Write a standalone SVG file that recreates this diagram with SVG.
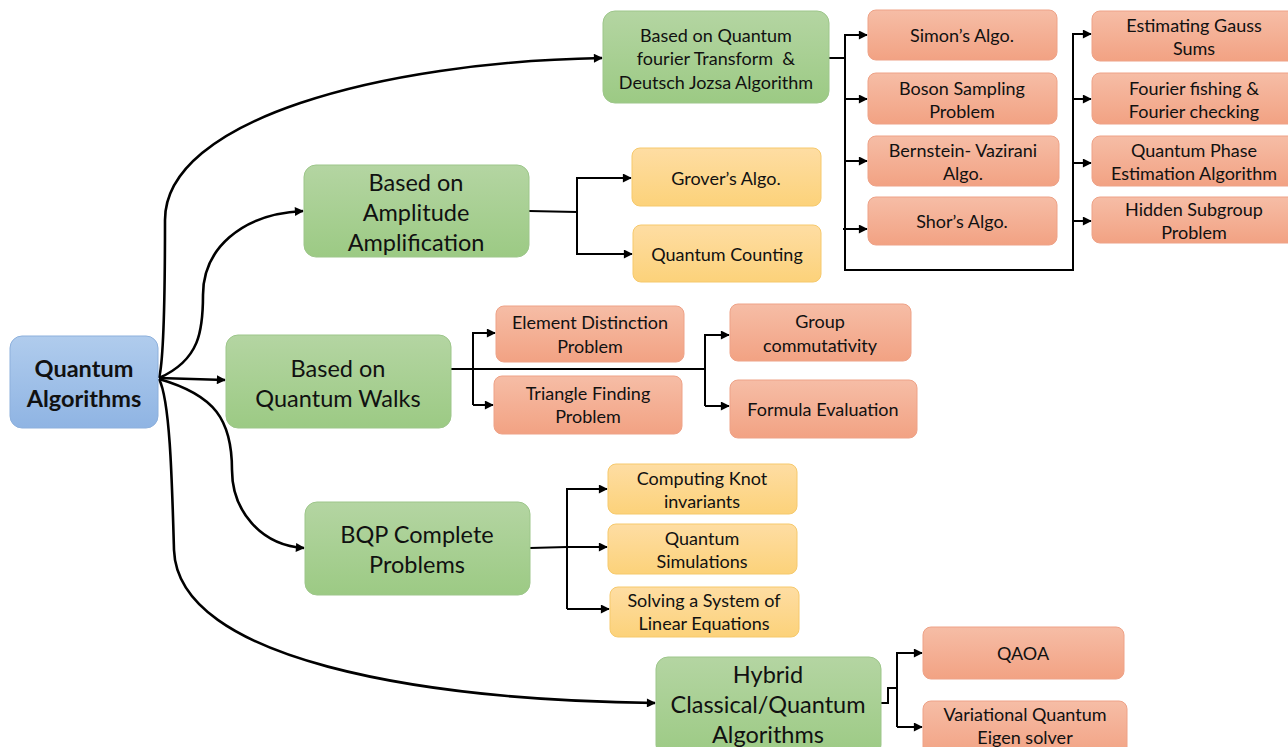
<svg xmlns="http://www.w3.org/2000/svg" width="1288" height="747" viewBox="0 0 1288 747">
  <defs>
    <linearGradient id="gBlue" x1="0" y1="0" x2="0" y2="1">
      <stop offset="0" stop-color="#b0cced"/>
      <stop offset="1" stop-color="#8fb4e3"/>
    </linearGradient>
    <linearGradient id="gGreen" x1="0" y1="0" x2="0" y2="1">
      <stop offset="0" stop-color="#b4d5a2"/>
      <stop offset="1" stop-color="#9cca84"/>
    </linearGradient>
    <linearGradient id="gOrange" x1="0" y1="0" x2="0" y2="1">
      <stop offset="0" stop-color="#f6bda6"/>
      <stop offset="1" stop-color="#f2a283"/>
    </linearGradient>
    <linearGradient id="gYellow" x1="0" y1="0" x2="0" y2="1">
      <stop offset="0" stop-color="#fedda3"/>
      <stop offset="1" stop-color="#fcd27a"/>
    </linearGradient>
    <marker id="arr" viewBox="0 0 10 10" refX="9" refY="5" markerWidth="10" markerHeight="9" markerUnits="userSpaceOnUse" orient="auto">
      <path d="M0,0 L10,5 L0,10 z" fill="#000"/>
    </marker>
  </defs>
  <style>
    text { font-family: Lato, "Open Sans", "Liberation Sans", sans-serif; fill: #111; text-anchor: middle; dominant-baseline: central; }
    .root rect { fill: url(#gBlue); stroke: #8db0dc; stroke-width: 1; }
    .root text { font-size: 23.5px; font-weight: bold; }
    .green rect { fill: url(#gGreen); stroke: #9dc68a; stroke-width: 1; }
    .green text { font-size: 23.5px; }
    .green.small text { font-size: 18px; }
    .orange rect { fill: url(#gOrange); stroke: #eea287; stroke-width: 1; }
    .yellow rect { fill: url(#gYellow); stroke: #f6c96c; stroke-width: 1; }
    .orange text, .yellow text { font-size: 18px; }
    .curve { fill: none; stroke: #000; stroke-width: 2.6; }
    .elbow { fill: none; stroke: #000; stroke-width: 2; }
  </style>

  <!-- connectors -->
  <g id="connectors">
    <!-- from the root node -->
    <path class="curve" d="M159,378 C164,360 165,300 165,220 C165,120 380,62 602,58" marker-end="url(#arr)"/>
    <path class="curve" d="M159,378 C200,360 203,330 203,295 C203,250 240,214 303,211" marker-end="url(#arr)"/>
    <path class="curve" d="M159,378 L225,380" marker-end="url(#arr)"/>
    <path class="curve" d="M159,379 C215,395 232,420 232,470 C232,510 260,545 304,548" marker-end="url(#arr)"/>
    <path class="curve" d="M159,379 C170,400 172,480 174,550 C178,660 420,700 655,703" marker-end="url(#arr)"/>

    <!-- Fourier transform branch -->
    <path class="elbow" d="M829,58 L845,58"/>
    <path class="elbow" d="M845,270 L845,35 L867,35" marker-end="url(#arr)"/>
    <path class="elbow" d="M845,99 L867,99" marker-end="url(#arr)"/>
    <path class="elbow" d="M845,161 L867,161" marker-end="url(#arr)"/>
    <path class="elbow" d="M843,229 L867,229" marker-end="url(#arr)"/>
    <path class="elbow" d="M844,270 L1073,270 L1073,34 L1091,34" marker-end="url(#arr)"/>
    <path class="elbow" d="M1073,99 L1091,99" marker-end="url(#arr)"/>
    <path class="elbow" d="M1073,163 L1091,163" marker-end="url(#arr)"/>
    <path class="elbow" d="M1073,221 L1091,221" marker-end="url(#arr)"/>

    <!-- amplitude amplification branch -->
    <path class="elbow" d="M529,211 L577,212"/>
    <path class="elbow" d="M577,212 L577,178 L631,178" marker-end="url(#arr)"/>
    <path class="elbow" d="M577,212 L577,254 L632,254" marker-end="url(#arr)"/>

    <!-- quantum walks branch -->
    <path class="elbow" d="M451,369 L705,369"/>
    <path class="elbow" d="M473,405 L473,333 L495,333" marker-end="url(#arr)"/>
    <path class="elbow" d="M473,405 L493,405" marker-end="url(#arr)"/>
    <path class="elbow" d="M705,406 L705,335 L729,335" marker-end="url(#arr)"/>
    <path class="elbow" d="M705,406 L729,406" marker-end="url(#arr)"/>

    <!-- BQP branch -->
    <path class="elbow" d="M530,548 L567,547 L607,547" marker-end="url(#arr)"/>
    <path class="elbow" d="M567,609 L567,489 L607,489" marker-end="url(#arr)"/>
    <path class="elbow" d="M567,609 L609,609" marker-end="url(#arr)"/>

    <!-- hybrid branch -->
    <path class="elbow" d="M881,703 L888,703 L888,688 L897,688"/>
    <path class="elbow" d="M897,727 L897,653 L922,653" marker-end="url(#arr)"/>
    <path class="elbow" d="M897,727 L922,727" marker-end="url(#arr)"/>
  </g>

  <!-- root -->
  <g id="quantum-algorithms" class="root">
    <rect x="10" y="336" width="148" height="92" rx="12"/>
    <text x="84" y="368">Quantum</text>
    <text x="84" y="398">Algorithms</text>
  </g>

  <!-- second level -->
  <g id="qft-deutsch-jozsa" class="green small">
    <rect x="603" y="11" width="226" height="92" rx="12"/>
    <text x="716" y="35">Based on Quantum</text>
    <text x="716" y="58">fourier Transform&#160; &amp;</text>
    <text x="716" y="82">Deutsch Jozsa Algorithm</text>
  </g>
  <g id="amplitude-amplification" class="green">
    <rect x="304" y="165" width="225" height="92" rx="12"/>
    <text x="416" y="182">Based on</text>
    <text x="416" y="212">Amplitude</text>
    <text x="416" y="242">Amplification</text>
  </g>
  <g id="quantum-walks" class="green">
    <rect x="226" y="335" width="225" height="93" rx="12"/>
    <text x="338" y="368">Based on</text>
    <text x="338" y="398">Quantum Walks</text>
  </g>
  <g id="bqp-complete" class="green">
    <rect x="305" y="502" width="225" height="93" rx="12"/>
    <text x="417" y="534">BQP Complete</text>
    <text x="417" y="564">Problems</text>
  </g>
  <g id="hybrid" class="green">
    <rect x="656" y="657" width="225" height="100" rx="12"/>
    <text x="768" y="674">Hybrid</text>
    <text x="768" y="704">Classical/Quantum</text>
    <text x="768" y="734">Algorithms</text>
  </g>

  <!-- QFT children, first column -->
  <g id="simon" class="orange">
    <rect x="868" y="10" width="189" height="50" rx="8"/>
    <text x="962" y="35">Simon’s Algo.</text>
  </g>
  <g id="boson-sampling" class="orange">
    <rect x="868" y="73" width="189" height="51" rx="8"/>
    <text x="962" y="88">Boson Sampling</text>
    <text x="962" y="111">Problem</text>
  </g>
  <g id="bernstein-vazirani" class="orange">
    <rect x="868" y="136" width="191" height="50" rx="8"/>
    <text x="963" y="150">Bernstein- Vazirani</text>
    <text x="963" y="173">Algo.</text>
  </g>
  <g id="shor" class="orange">
    <rect x="868" y="197" width="189" height="48" rx="8"/>
    <text x="962" y="221">Shor’s Algo.</text>
  </g>

  <!-- QFT children, second column -->
  <g id="gauss-sums" class="orange">
    <rect x="1092" y="11" width="206" height="50" rx="8"/>
    <text x="1194" y="25">Estimating Gauss</text>
    <text x="1194" y="48">Sums</text>
  </g>
  <g id="fourier-fishing" class="orange">
    <rect x="1092" y="73" width="206" height="51" rx="8"/>
    <text x="1194" y="88">Fourier fishing &amp;</text>
    <text x="1194" y="111">Fourier checking</text>
  </g>
  <g id="phase-estimation" class="orange">
    <rect x="1092" y="136" width="206" height="50" rx="8"/>
    <text x="1194" y="150">Quantum Phase</text>
    <text x="1194" y="173">Estimation Algorithm</text>
  </g>
  <g id="hidden-subgroup" class="orange">
    <rect x="1092" y="197" width="206" height="46" rx="8"/>
    <text x="1194" y="209">Hidden Subgroup</text>
    <text x="1194" y="232">Problem</text>
  </g>

  <!-- amplitude amplification children -->
  <g id="grover" class="yellow">
    <rect x="632" y="148" width="189" height="58" rx="8"/>
    <text x="726" y="178">Grover’s Algo.</text>
  </g>
  <g id="quantum-counting" class="yellow">
    <rect x="633" y="225" width="188" height="57" rx="8"/>
    <text x="727" y="254">Quantum Counting</text>
  </g>

  <!-- quantum walk children -->
  <g id="element-distinction" class="orange">
    <rect x="496" y="306" width="188" height="56" rx="8"/>
    <text x="590" y="322">Element Distinction</text>
    <text x="590" y="346">Problem</text>
  </g>
  <g id="triangle-finding" class="orange">
    <rect x="494" y="376" width="188" height="58" rx="8"/>
    <text x="588" y="393">Triangle Finding</text>
    <text x="588" y="416">Problem</text>
  </g>
  <g id="group-commutativity" class="orange">
    <rect x="730" y="304" width="181" height="57" rx="8"/>
    <text x="820" y="321">Group</text>
    <text x="820" y="345">commutativity</text>
  </g>
  <g id="formula-evaluation" class="orange">
    <rect x="730" y="380" width="187" height="58" rx="8"/>
    <text x="823" y="409">Formula Evaluation</text>
  </g>

  <!-- BQP complete children -->
  <g id="knot-invariants" class="yellow">
    <rect x="608" y="464" width="189" height="50" rx="8"/>
    <text x="702" y="478">Computing Knot</text>
    <text x="702" y="501">invariants</text>
  </g>
  <g id="quantum-simulations" class="yellow">
    <rect x="608" y="524" width="189" height="50" rx="8"/>
    <text x="702" y="538">Quantum</text>
    <text x="702" y="561">Simulations</text>
  </g>
  <g id="linear-equations" class="yellow">
    <rect x="610" y="587" width="189" height="50" rx="8"/>
    <text x="704" y="600">Solving a System of</text>
    <text x="704" y="623">Linear Equations</text>
  </g>

  <!-- hybrid children -->
  <g id="qaoa" class="orange">
    <rect x="923" y="627" width="201" height="52" rx="8"/>
    <text x="1023" y="653">QAOA</text>
  </g>
  <g id="vqe" class="orange">
    <rect x="923" y="701" width="204" height="56" rx="8"/>
    <text x="1025" y="714">Variational Quantum</text>
    <text x="1025" y="737">Eigen solver</text>
  </g>
</svg>
